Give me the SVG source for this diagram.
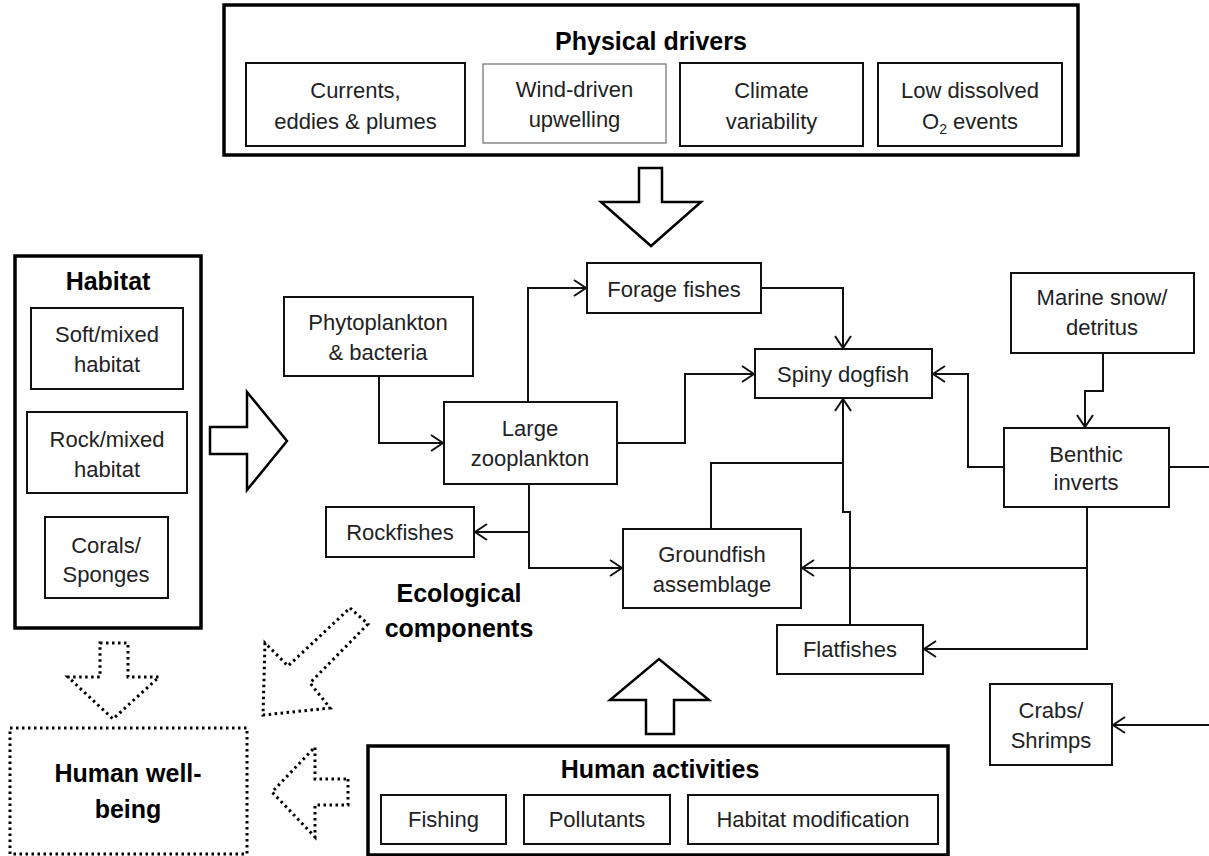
<svg xmlns="http://www.w3.org/2000/svg" width="1209" height="856" viewBox="0 0 1209 856">
<defs>
<style>
.box{fill:#fff;stroke:#111;stroke-width:2}
.outer{fill:#fff;stroke:#000;stroke-width:3.5}
.thin{fill:#fff;stroke:#777;stroke-width:1.3}
.t{font-family:"Liberation Sans",Arial,sans-serif;font-size:22px;fill:#222;text-anchor:middle}
.b{font-family:"Liberation Sans",Arial,sans-serif;font-size:25px;font-weight:bold;fill:#000;text-anchor:middle}
.big{fill:#fff;stroke:#000;stroke-width:2.5;stroke-linejoin:miter}
.dot{fill:#fff;stroke:#000;stroke-width:3;stroke-dasharray:2.5 3.5}
.c{fill:none;stroke:#111;stroke-width:2}
</style>
<marker id="ah" viewBox="0 0 14 18" refX="13" refY="9" markerWidth="14" markerHeight="18" markerUnits="userSpaceOnUse" orient="auto">
<path d="M1,1 L13,9 L1,17" fill="none" stroke="#111" stroke-width="2"/>
</marker>
</defs>
<rect width="1209" height="856" fill="#fff"/>

<g id="physical-drivers">
<rect class="outer" x="224" y="5" width="854" height="150"/>
<text class="b" x="651" y="50">Physical drivers</text>
<rect class="box" x="246" y="63" width="219" height="83"/>
<text class="t" x="355.5" y="98">Currents,</text>
<text class="t" x="355.5" y="129">eddies &amp; plumes</text>
<rect class="thin" x="483" y="64" width="183" height="79"/>
<text class="t" x="574.5" y="97">Wind-driven</text>
<text class="t" x="574.5" y="127">upwelling</text>
<rect class="box" x="680" y="63" width="183" height="83"/>
<text class="t" x="771.5" y="98">Climate</text>
<text class="t" x="771.5" y="129">variability</text>
<rect class="box" x="878" y="63" width="184" height="83"/>
<text class="t" x="970" y="98">Low dissolved</text>
<text class="t" x="970" y="129">O<tspan font-size="14" dy="5">2</tspan><tspan dy="-5"> events</tspan></text>
</g>

<g id="arrow-physical">
<polygon class="big" points="639,168 662,168 662,202 701,202 651,246 601,202 639,202"/>
</g>

<g id="habitat">
<rect class="outer" x="15" y="256" width="186" height="372"/>
<text class="b" x="108" y="290" font-size="26">Habitat</text>
<rect class="box" x="31" y="308" width="152" height="81"/>
<text class="t" x="107" y="342">Soft/mixed</text>
<text class="t" x="107" y="372">habitat</text>
<rect class="box" x="27" y="412" width="160" height="81"/>
<text class="t" x="107" y="447">Rock/mixed</text>
<text class="t" x="107" y="477">habitat</text>
<rect class="box" x="45" y="517" width="123" height="81"/>
<text class="t" x="106" y="553">Corals/</text>
<text class="t" x="106" y="582">Sponges</text>
</g>

<g id="arrow-habitat">
<polygon class="big" points="210,427 247,427 247,392 287,441 247,490 247,454 210,454"/>
</g>

<g id="phytoplankton">
<rect class="box" x="284" y="297" width="189" height="79"/>
<text class="t" x="378" y="330">Phytoplankton</text>
<text class="t" x="378" y="360">&amp; bacteria</text>
</g>
<g id="forage-fishes">
<rect class="box" x="587" y="263" width="174" height="50"/>
<text class="t" x="674" y="297">Forage fishes</text>
</g>
<g id="large-zooplankton">
<rect class="box" x="444" y="402" width="173" height="82"/>
<text class="t" x="530" y="436">Large</text>
<text class="t" x="530" y="466">zooplankton</text>
</g>
<g id="spiny-dogfish">
<rect class="box" x="755" y="349" width="177" height="49"/>
<text class="t" x="843" y="382">Spiny dogfish</text>
</g>
<g id="marine-snow">
<rect class="box" x="1011" y="273" width="183" height="80"/>
<text class="t" x="1102" y="305">Marine snow/</text>
<text class="t" x="1102" y="335">detritus</text>
</g>
<g id="benthic-inverts">
<rect class="box" x="1004" y="428" width="165" height="79"/>
<text class="t" x="1086" y="462">Benthic</text>
<text class="t" x="1086" y="490">inverts</text>
</g>
<g id="rockfishes">
<rect class="box" x="326" y="507" width="148" height="50"/>
<text class="t" x="400" y="540">Rockfishes</text>
</g>
<g id="groundfish">
<rect class="box" x="623" y="529" width="178" height="79"/>
<text class="t" x="712" y="562">Groundfish</text>
<text class="t" x="712" y="592">assemblage</text>
</g>
<g id="flatfishes">
<rect class="box" x="777" y="625" width="146" height="49"/>
<text class="t" x="850" y="657">Flatfishes</text>
</g>
<g id="crabs-shrimps">
<rect class="box" x="990" y="684" width="122" height="81"/>
<text class="t" x="1051" y="718">Crabs/</text>
<text class="t" x="1051" y="748">Shrimps</text>
</g>
<g id="ecological-label">
<text class="b" x="459" y="602">Ecological</text>
<text class="b" x="459" y="637">components</text>
</g>

<g id="arrow-human">
<polygon class="big" points="646,734 674,734 674,700 709,700 659,659 610,700 646,700"/>
</g>

<g id="human-activities">
<rect class="outer" x="368" y="746" width="580" height="109"/>
<text class="b" x="660" y="778">Human activities</text>
<rect class="box" x="381" y="795" width="125" height="49"/>
<text class="t" x="443.5" y="827">Fishing</text>
<rect class="box" x="524" y="795" width="146" height="49"/>
<text class="t" x="597" y="827">Pollutants</text>
<rect class="box" x="688" y="795" width="250" height="49"/>
<text class="t" x="813" y="827">Habitat modification</text>
</g>

<g id="human-wellbeing">
<rect class="dot" x="10" y="728" width="237" height="126"/>
<text class="b" x="128" y="782" font-size="26">Human well-</text>
<text class="b" x="128" y="818" font-size="26">being</text>
</g>

<g id="dotted-arrows">
<polygon class="dot" points="100,643 128,643 128,677 159,677 113,719 68,677 100,677"/>
<polygon class="dot" points="350,608 368,624 310,683 330,708 263,715 265,643 288,666"/>
<polygon class="dot" points="348,779 348,805 315,805 315,837 272,792 315,747 315,779"/>
</g>

<g id="connectors">
<path class="c" d="M379,376 V443 H443" marker-end="url(#ah)"/>
<path class="c" d="M528,402 V288 H586" marker-end="url(#ah)"/>
<path class="c" d="M617,443 H685 V374 H754" marker-end="url(#ah)"/>
<path class="c" d="M529,484 V568 H622" marker-end="url(#ah)"/>
<path class="c" d="M529,532 H475" marker-end="url(#ah)"/>
<path class="c" d="M761,288 H843 V348" marker-end="url(#ah)"/>
<path class="c" d="M711,529 V463 H843"/>
<path class="c" d="M850,625 V512 H843 V399" marker-end="url(#ah)"/>
<path class="c" d="M1004,467 H968 V374 H933" marker-end="url(#ah)"/>
<path class="c" d="M1103,353 V391 H1085 V427" stroke-width="3" marker-end="url(#ah)"/>
<path class="c" d="M1087,507 V649 H924" stroke-width="2.5" marker-end="url(#ah)"/>
<path class="c" d="M1087,568 H802" marker-end="url(#ah)"/>
<path class="c" d="M1169,467 H1209"/>
<path class="c" d="M1209,725 H1113" marker-end="url(#ah)"/>
</g>
</svg>
